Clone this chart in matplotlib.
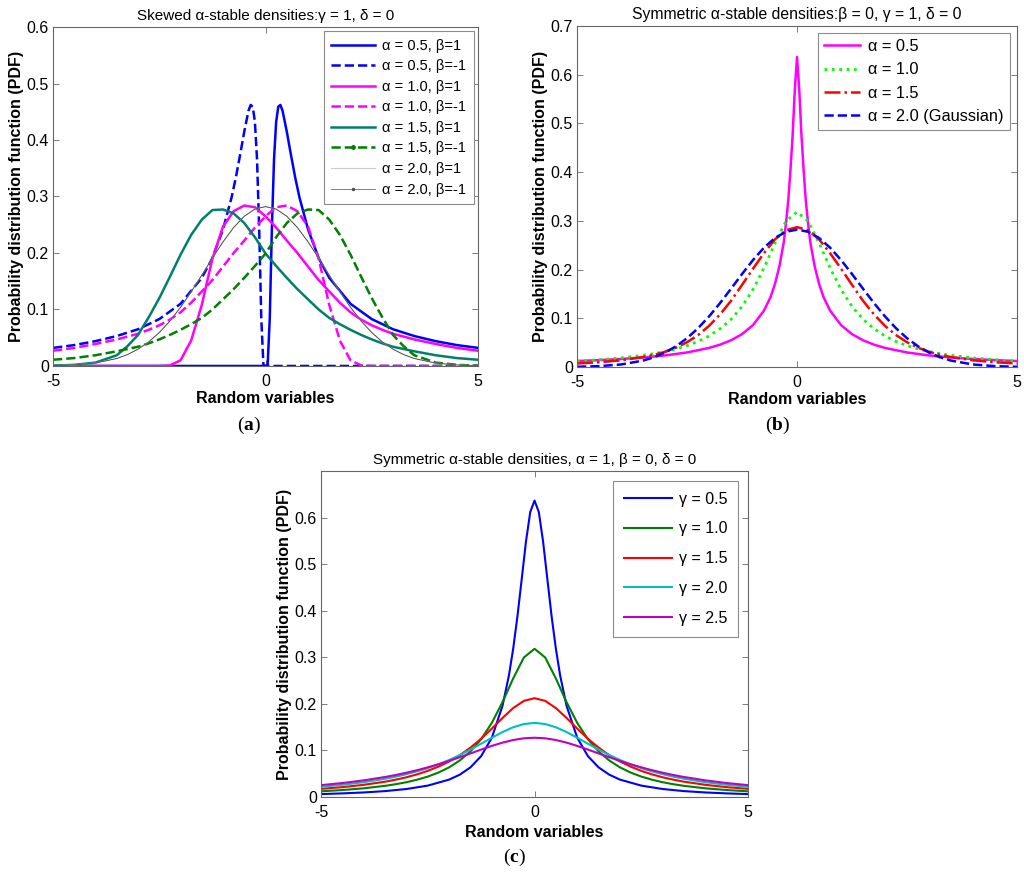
import numpy as np
import matplotlib
matplotlib.use("Agg")
from matplotlib import pyplot as plt
from matplotlib.lines import Line2D

plt.rcParams['font.family'] = ['Liberation Sans', 'DejaVu Sans']
plt.rcParams['mathtext.fontset'] = 'custom'
plt.rcParams['mathtext.bf'] = 'Liberation Serif:bold'
plt.rcParams['mathtext.rm'] = 'Liberation Serif'

# shared x grid
x_grid = [-5, -4.5, -4, -3.5, -3.25, -3, -2.75, -2.5, -2.25, -2, -1.75, -1.5, -1.25, -1,
          -0.75, -0.5, -0.25, 0, 0.25, 0.5, 0.75, 1, 1.25, 1.5, 1.75, 2, 2.25, 2.5,
          2.75, 3, 3.25, 3.5, 4, 4.5, 5]

# ---- panel (a): skewed densities, gamma = 1, delta = 0
x_a05_pos = [-5, 0, 0.05, 0.1, 0.15, 0.2, 0.25, 0.3, 0.35, 0.4, 0.5, 0.6, 0.7, 0.8, 1,
             1.25, 1.5, 2, 2.5, 3, 3.5, 4, 4.5, 5]
a05_b1 = [0, 0, 0.0016, 0.085, 0.245, 0.366, 0.432, 0.459, 0.462, 0.452, 0.415, 0.373,
          0.333, 0.298, 0.242, 0.191, 0.156, 0.110, 0.083, 0.065, 0.053, 0.044, 0.037, 0.032]
x_a05_neg = [-5, -4.5, -4, -3.5, -3, -2.5, -2, -1.5, -1.25, -1, -0.8, -0.7, -0.6, -0.5,
             -0.4, -0.35, -0.3, -0.25, -0.2, -0.15, -0.1, -0.05, 0, 5]
a05_bm1 = [0.032, 0.037, 0.044, 0.053, 0.065, 0.083, 0.110, 0.156, 0.191, 0.242, 0.298,
           0.333, 0.373, 0.415, 0.452, 0.462, 0.459, 0.432, 0.366, 0.245, 0.085, 0.0016, 0, 0]
a10_b1 = [0, 0, 0, 0, 0, 0, 0, 0, 0.001, 0.010, 0.045, 0.108, 0.190, 0.247, 0.274, 0.284,
          0.281, 0.265, 0.245, 0.222, 0.200, 0.176, 0.152, 0.132, 0.112, 0.095, 0.082,
          0.072, 0.064, 0.057, 0.052, 0.047, 0.039, 0.032, 0.027]
a10_bm1 = [0.027, 0.032, 0.039, 0.047, 0.052, 0.057, 0.064, 0.072, 0.082, 0.095, 0.112,
           0.132, 0.152, 0.176, 0.200, 0.222, 0.245, 0.265, 0.281, 0.284, 0.274, 0.247,
           0.190, 0.108, 0.045, 0.010, 0.001, 0, 0, 0, 0, 0, 0, 0, 0]
a15_b1 = [0.0005, 0.002, 0.006, 0.019, 0.035, 0.055, 0.086, 0.120, 0.158, 0.197, 0.232,
          0.259, 0.276, 0.277, 0.270, 0.253, 0.228, 0.199, 0.177, 0.156, 0.136, 0.118,
          0.100, 0.085, 0.074, 0.064, 0.055, 0.047, 0.040, 0.034, 0.030, 0.026, 0.019,
          0.014, 0.011]
a15_bm1 = [0.011, 0.014, 0.019, 0.026, 0.030, 0.034, 0.040, 0.047, 0.055, 0.064, 0.074,
           0.085, 0.100, 0.118, 0.136, 0.156, 0.177, 0.199, 0.228, 0.253, 0.270, 0.277,
           0.276, 0.259, 0.232, 0.197, 0.158, 0.120, 0.086, 0.055, 0.035, 0.019, 0.006,
           0.002, 0.0005]
gauss = [0.0005, 0.0018, 0.0052, 0.0132, 0.0201, 0.0297, 0.0426, 0.0591, 0.0796, 0.1038,
         0.1312, 0.1607, 0.1909, 0.2197, 0.2451, 0.2650, 0.2777, 0.2821, 0.2777, 0.2650,
         0.2451, 0.2197, 0.1909, 0.1607, 0.1312, 0.1038, 0.0796, 0.0591, 0.0426, 0.0297,
         0.0201, 0.0132, 0.0052, 0.0018, 0.0005]

# ---- panel (b): symmetric densities, beta = 0, gamma = 1
x_b05 = [-5, -4.5, -4, -3.5, -3, -2.5, -2, -1.75, -1.5, -1.25, -1, -0.75, -0.6, -0.5, -0.4,
         -0.3, -0.25, -0.2, -0.15, -0.1, -0.05, 0, 0.05, 0.1, 0.15, 0.2, 0.25, 0.3, 0.4,
         0.5, 0.6, 0.75, 1, 1.25, 1.5, 1.75, 2, 2.5, 3, 3.5, 4, 4.5, 5]
sym_a05 = [0.0123, 0.0142, 0.0165, 0.0196, 0.0238, 0.0299, 0.0392, 0.0459, 0.0549, 0.0675,
           0.0861, 0.116, 0.144, 0.171, 0.207, 0.257, 0.296, 0.341, 0.404, 0.476, 0.570,
           0.6366, 0.570, 0.476, 0.404, 0.341, 0.296, 0.257, 0.207, 0.171, 0.144, 0.116,
           0.0861, 0.0675, 0.0549, 0.0459, 0.0392, 0.0299, 0.0238, 0.0196, 0.0165, 0.0142,
           0.0123]
sym_a10 = [0.0122, 0.0150, 0.0187, 0.0240, 0.0275, 0.0318, 0.0372, 0.0439, 0.0525, 0.0637,
           0.0785, 0.0979, 0.1242, 0.1592, 0.2037, 0.2546, 0.2996, 0.3183, 0.2996, 0.2546,
           0.2037, 0.1592, 0.1242, 0.0979, 0.0785, 0.0637, 0.0525, 0.0439, 0.0372, 0.0318,
           0.0275, 0.0240, 0.0187, 0.0150, 0.0122]
sym_a15 = [0.0073, 0.0098, 0.0138, 0.0205, 0.0250, 0.0312, 0.0398, 0.0509, 0.0655, 0.0844,
           0.1080, 0.1359, 0.1686, 0.2019, 0.2340, 0.2622, 0.2809, 0.2872, 0.2809, 0.2622,
           0.2340, 0.2019, 0.1686, 0.1359, 0.1080, 0.0844, 0.0655, 0.0509, 0.0398, 0.0312,
           0.0250, 0.0205, 0.0138, 0.0098, 0.0073]
sym_a20 = gauss

# ---- panel (c): Cauchy, alpha = 1, beta = 0, different gamma
x_c05 = [-5, -4.5, -4, -3.5, -3, -2.5, -2, -1.75, -1.5, -1.25, -1, -0.75, -0.6, -0.5, -0.4,
         -0.3, -0.2, -0.1, 0, 0.1, 0.2, 0.3, 0.4, 0.5, 0.6, 0.75, 1, 1.25, 1.5, 1.75, 2,
         2.5, 3, 3.5, 4, 4.5, 5]
g05 = [0.0063, 0.0078, 0.0098, 0.0127, 0.0172, 0.0245, 0.0374, 0.0480, 0.0637, 0.0878,
       0.1273, 0.1959, 0.2609, 0.3183, 0.3882, 0.4681, 0.5488, 0.6121, 0.6366, 0.6121,
       0.5488, 0.4681, 0.3882, 0.3183, 0.2609, 0.1959, 0.1273, 0.0878, 0.0637, 0.0480,
       0.0374, 0.0245, 0.0172, 0.0127, 0.0098, 0.0078, 0.0063]
g10 = sym_a10
g15 = [0.0175, 0.0212, 0.0262, 0.0329, 0.0373, 0.0424, 0.0487, 0.0562, 0.0653, 0.0764,
       0.0899, 0.1061, 0.1252, 0.1469, 0.1698, 0.1910, 0.2065, 0.2122, 0.2065, 0.1910,
       0.1698, 0.1469, 0.1252, 0.1061, 0.0899, 0.0764, 0.0653, 0.0562, 0.0487, 0.0424,
       0.0373, 0.0329, 0.0262, 0.0212, 0.0175]
g20 = [0.0220, 0.0263, 0.0318, 0.0392, 0.0437, 0.0490, 0.0551, 0.0621, 0.0702, 0.0796,
       0.0901, 0.1019, 0.1145, 0.1273, 0.1395, 0.1498, 0.1567, 0.1592, 0.1567, 0.1498,
       0.1395, 0.1273, 0.1145, 0.1019, 0.0901, 0.0796, 0.0702, 0.0621, 0.0551, 0.0490,
       0.0437, 0.0392, 0.0318, 0.0263, 0.0220]
g25 = [0.0255, 0.0300, 0.0358, 0.0430, 0.0473, 0.0522, 0.0576, 0.0637, 0.0703, 0.0776,
       0.0855, 0.0936, 0.1019, 0.1098, 0.1168, 0.1224, 0.1261, 0.1273, 0.1261, 0.1224,
       0.1168, 0.1098, 0.1019, 0.0936, 0.0855, 0.0776, 0.0703, 0.0637, 0.0576, 0.0522,
       0.0473, 0.0430, 0.0358, 0.0300, 0.0255]

TEAL = '#00806a'
GREEN = '#008000'
AXC = '0.4'


def style_axes(ax, ymax, yticks, title, tsize=11):
    ax.set_xlim(-5, 5)
    ax.set_ylim(0, ymax)
    ax.set_xticks([-5, 0, 5])
    ax.set_xticklabels(['-5', '0', '5'])
    ax.set_yticks(yticks)
    ax.set_yticklabels(['0' if t == 0 else '%.1f' % t for t in yticks])
    ax.tick_params(direction='in', top=True, right=True, length=4, width=0.6,
                   color=AXC, labelsize=11.5, pad=3)
    ax.tick_params(axis='x', pad=6)
    for s in ax.spines.values():
        s.set_color(AXC)
        s.set_linewidth(0.8)
    ax.set_title(title, fontsize=tsize, pad=5)
    ax.set_xlabel('Random variables', fontsize=11.5, fontweight='bold', labelpad=1)
    ax.set_ylabel('Probability distribution function (PDF)', fontsize=11.5,
                  fontweight='bold', labelpad=2)


def frame(leg):
    leg.get_frame().set_edgecolor('0.55')
    leg.get_frame().set_linewidth(0.8)


fig = plt.figure(figsize=(10.24, 8.77), dpi=100)

# (a)
ax1 = fig.add_axes([0.0518, 0.5827, 0.415, 0.3865])
lw = 1.8
ax1.plot(x_a05_pos, a05_b1, color='b', lw=lw)
ax1.plot(x_a05_neg, a05_bm1, color='b', lw=lw, ls='--')
ax1.plot(x_grid, a10_b1, color='#ff00ff', lw=lw)
ax1.plot(x_grid, a10_bm1, color='#ff00ff', lw=lw, ls='--')
ax1.plot(x_grid, a15_b1, color=TEAL, lw=lw)
ax1.plot(x_grid, a15_bm1, color=GREEN, lw=lw, ls='--')
ax1.plot(x_grid, gauss, color='0.75', lw=0.8)
ax1.plot(x_grid, gauss, color='0.2', lw=0.5)
handles_a = [
    Line2D([], [], color='b', lw=lw),
    Line2D([], [], color='b', lw=lw, ls='--'),
    Line2D([], [], color='#ff00ff', lw=lw),
    Line2D([], [], color='#ff00ff', lw=lw, ls='--'),
    Line2D([], [], color=TEAL, lw=lw),
    Line2D([], [], color=GREEN, lw=lw, ls='--', marker='.', markersize=5),
    Line2D([], [], color='0.8', lw=0.8),
    Line2D([], [], color='0.3', lw=0.5, marker='.', markersize=3),
]
labels_a = ['α = 0.5, β=1', 'α = 0.5, β=-1', 'α = 1.0, β=1', 'α = 1.0, β=-1',
            'α = 1.5, β=1', 'α = 1.5, β=-1', 'α = 2.0, β=1', 'α = 2.0, β=-1']
style_axes(ax1, 0.6, [0, 0.1, 0.2, 0.3, 0.4, 0.5, 0.6],
           'Skewed α-stable densities:γ = 1, δ = 0')
frame(ax1.legend(handles_a, labels_a, loc='upper right', fontsize=10.5, handlelength=3.0,
                 labelspacing=0.45, borderaxespad=0.3, fancybox=False, framealpha=1,
                 handletextpad=0.5, borderpad=0.5))

# (b)
ax2 = fig.add_axes([0.5635, 0.5815, 0.4297, 0.3888])
ax2.plot(x_b05, sym_a05, color='#ff00ff', lw=1.8, label='α = 0.5')
ax2.plot(x_grid, sym_a10, color='#00ff00', lw=2.0, ls=':', label='α = 1.0')
ax2.plot(x_grid, sym_a15, color='r', lw=1.8, ls='-.', label='α = 1.5')
ax2.plot(x_grid, sym_a20, color='b', lw=1.8, ls='--', label='α = 2.0 (Gaussian)')
style_axes(ax2, 0.7, [0, 0.1, 0.2, 0.3, 0.4, 0.5, 0.6, 0.7],
           'Symmetric α-stable densities:β = 0, γ = 1, δ = 0', tsize=11.3)
frame(ax2.legend(loc='upper right', fontsize=11.8, handlelength=2.2, labelspacing=0.5,
                 borderaxespad=0.4, fancybox=False, framealpha=1, handletextpad=0.5,
                 borderpad=0.4))

# (c)
ax3 = fig.add_axes([0.3135, 0.0912, 0.417, 0.3717])
ax3.plot(x_c05, g05, color='b', lw=1.5, label='γ = 0.5')
ax3.plot(x_grid, g10, color=(0, 0.5, 0), lw=1.5, label='γ = 1.0')
ax3.plot(x_grid, g15, color='r', lw=1.5, label='γ = 1.5')
ax3.plot(x_grid, g20, color=(0, 0.75, 0.75), lw=1.5, label='γ = 2.0')
ax3.plot(x_grid, g25, color=(0.75, 0, 0.75), lw=1.5, label='γ = 2.5')
style_axes(ax3, 0.7, [0, 0.1, 0.2, 0.3, 0.4, 0.5, 0.6],
           'Symmetric α-stable densities, α = 1, β = 0, δ = 0')
ax3.xaxis.labelpad = 3
frame(ax3.legend(loc='upper right', fontsize=11.5, handlelength=3.0, labelspacing=0.92,
                 borderaxespad=0.6, fancybox=False, framealpha=1, handletextpad=0.4,
                 borderpad=0.7))

# panel letters
for xl, yl, s in [(0.243, 0.515, 'a'), (0.759, 0.515, 'b'), (0.502, 0.022, 'c')]:
    fig.text(xl, yl, r'($\mathbf{%s}$)' % s, ha='center', va='center', fontsize=14,
             family='Liberation Serif')

fig.savefig('out.png', dpi=100)
